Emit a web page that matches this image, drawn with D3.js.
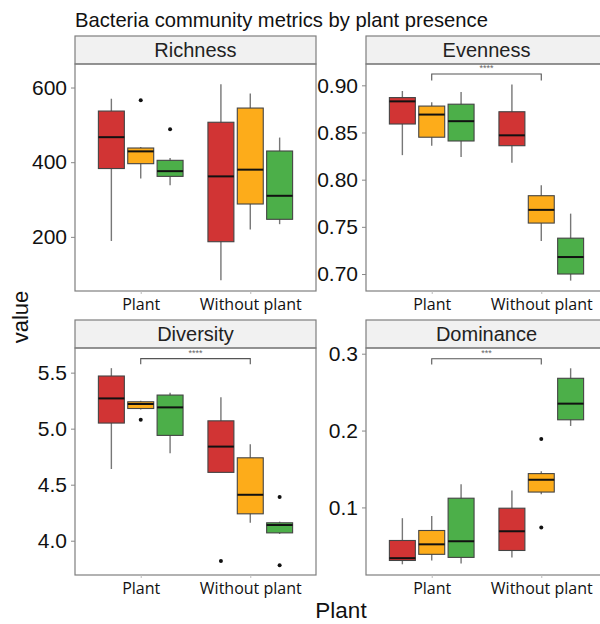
<!DOCTYPE html>
<html>
<head>
<meta charset="utf-8">
<script src="https://cdn.jsdelivr.net/npm/d3@7"></script>
<style>
  body { margin: 0; background: #fff; }
  svg { display: block; }
</style>
</head>
<body>
<div id="chart"></div>
<script>
// categories on the x axis and the three fill groups (left to right in each category)
var groups = ["Plant", "Without plant"];
var fillColors = ["#d13434", "#fdac1a", "#4caf49"];

// box stats per group: [lower whisker, q1, median, q3, upper whisker]
// order: Plant (red, orange, green), Without plant (red, orange, green)
var richness = [
  [189, 383, 467, 537, 570], [356, 396, 429, 438, 441], [338, 362, 376, 405, 411],
  [84, 187, 362, 507, 609], [220, 288, 380, 545, 584], [234, 247, 310, 430, 466]
];
var richnessOut = [[], [566], [488], [], [], []];

var evenness = [
  [0.826, 0.859, 0.883, 0.887, 0.894], [0.836, 0.845, 0.869, 0.878, 0.882], [0.824, 0.841, 0.862, 0.880, 0.893],
  [0.818, 0.836, 0.847, 0.872, 0.901], [0.735, 0.754, 0.768, 0.783, 0.794], [0.693, 0.700, 0.718, 0.738, 0.764]
];
var evennessOut = [[], [], [], [], [], []];

var diversity = [
  [4.64, 5.05, 5.27, 5.47, 5.54], [5.17, 5.18, 5.22, 5.24, 5.25], [4.78, 4.94, 5.19, 5.30, 5.32],
  [4.61, 4.61, 4.84, 5.07, 5.28], [4.16, 4.24, 4.41, 4.74, 4.86], [4.06, 4.07, 4.14, 4.16, 4.17]
];
var diversityOut = [[], [5.08], [], [3.82], [], [4.39, 3.78]];

var dominance = [
  [0.026, 0.031, 0.034, 0.057, 0.086], [0.031, 0.039, 0.052, 0.070, 0.089], [0.027, 0.035, 0.056, 0.112, 0.130],
  [0.035, 0.044, 0.069, 0.099, 0.122], [0.117, 0.120, 0.136, 0.144, 0.147], [0.206, 0.214, 0.235, 0.268, 0.281]
];
var dominanceOut = [[], [], [], [], [0.189, 0.074], []];

// tick labels per panel
var richnessTicks = [200, 400, 600];
var evennessTicks = [0.70, 0.75, 0.80, 0.85, 0.90];
var diversityTicks = [4.0, 4.5, 5.0, 5.5];
var dominanceTicks = [0.1, 0.2, 0.3];

// significance brackets: [label, bracket value, tick end value]
var evennessSig = ["****", 0.912, 0.905];
var diversitySig = ["****", 5.625, 5.574];
var dominanceSig = ["***", 0.2935, 0.286];

var panels = [
  { title: "Richness", stats: richness, out: richnessOut, ticks: richnessTicks, fmt: d3.format("d"),
    domain: [55, 663], col: 0, row: 0, sig: null },
  { title: "Evenness", stats: evenness, out: evennessOut, ticks: evennessTicks, fmt: d3.format(".2f"),
    domain: [0.682, 0.9226], col: 1, row: 0, sig: evennessSig },
  { title: "Diversity", stats: diversity, out: diversityOut, ticks: diversityTicks, fmt: d3.format(".1f"),
    domain: [3.694, 5.72], col: 0, row: 1, sig: diversitySig },
  { title: "Dominance", stats: dominance, out: dominanceOut, ticks: dominanceTicks, fmt: d3.format(".1f"),
    domain: [0.0121, 0.3074], col: 1, row: 1, sig: dominanceSig }
];

var W = 600, H = 624;
var colX = [75, 366], panelW = 241;
var rowY = [36, 320], stripH = 28, panelH = 227;

var svg = d3.select("#chart").append("svg")
  .attr("width", W).attr("height", H)
  .style("font-family", "'Liberation Sans', Arial, sans-serif");

svg.append("text")
  .attr("x", 75).attr("y", 27)
  .attr("font-size", 20.2).attr("fill", "#111")
  .text("Bacteria community metrics by plant presence");

panels.forEach(function(p) {
  var x0 = colX[p.col], top = rowY[p.row];
  var y0 = top + stripH, y1 = y0 + panelH;
  var g = svg.append("g");

  var x = d3.scalePoint().domain(groups).range([x0, x0 + panelW]).padding(0.6);
  var step = x.step();
  var y = d3.scaleLinear().domain(p.domain).range([y1, y0]);
  var boxW = 0.237 * step, dodge = 0.268 * step;

  // strip
  g.append("rect").attr("x", x0).attr("y", top).attr("width", panelW).attr("height", stripH)
    .attr("fill", "#f1f1f1").attr("stroke", "#7f7f7f").attr("stroke-width", 1.2);
  g.append("text").attr("x", x0 + panelW / 2).attr("y", top + 21)
    .attr("text-anchor", "middle").attr("font-size", 20).attr("fill", "#222")
    .text(p.title);

  // boxes
  p.stats.forEach(function(s, i) {
    var gi = Math.floor(i / 3), si = i % 3;
    var cx = x(groups[gi]) + (si - 1) * dodge;
    g.append("line").attr("x1", cx).attr("x2", cx).attr("y1", y(s[0])).attr("y2", y(s[4]))
      .attr("stroke", "#777").attr("stroke-width", 1.4);
    g.append("rect").attr("x", cx - boxW / 2).attr("y", y(s[3]))
      .attr("width", boxW).attr("height", Math.max(1, y(s[1]) - y(s[3])))
      .attr("fill", fillColors[si]).attr("stroke", "#444").attr("stroke-width", 1.1);
    g.append("line").attr("x1", cx - boxW / 2).attr("x2", cx + boxW / 2)
      .attr("y1", y(s[2])).attr("y2", y(s[2]))
      .attr("stroke", "#111").attr("stroke-width", 2);
    p.out[i].forEach(function(o) {
      g.append("circle").attr("cx", cx).attr("cy", y(o)).attr("r", 2).attr("fill", "#111");
    });
  });

  // significance bracket
  if (p.sig) {
    var xa = x(groups[0]), xb = x(groups[1]);
    g.append("path")
      .attr("d", "M" + xa + "," + y(p.sig[2]) + "V" + y(p.sig[1]) + "H" + xb + "V" + y(p.sig[2]))
      .attr("fill", "none").attr("stroke", "#555").attr("stroke-width", 1.1);
    g.append("text").attr("x", (xa + xb) / 2).attr("y", y(p.sig[1]) - 3)
      .attr("text-anchor", "middle").attr("font-size", 9).attr("fill", "#666")
      .text(p.sig[0]);
  }

  // panel border
  g.append("rect").attr("x", x0).attr("y", y0).attr("width", panelW).attr("height", panelH)
    .attr("fill", "none").attr("stroke", "#7f7f7f").attr("stroke-width", 1.2);

  // y axis
  var ya = g.append("g").attr("transform", "translate(" + x0 + ",0)")
    .call(d3.axisLeft(y).tickValues(p.ticks).tickFormat(p.fmt).tickSize(4).tickPadding(4));
  ya.select(".domain").remove();
  ya.selectAll(".tick line").attr("stroke", "#888");
  ya.selectAll(".tick text").attr("font-size", 21).attr("fill", "#111")
    .attr("font-family", "'Liberation Sans', Arial, sans-serif");

  // x axis
  var xa2 = g.append("g").attr("transform", "translate(0," + y1 + ")")
    .call(d3.axisBottom(x).tickSize(3).tickPadding(5));
  xa2.select(".domain").remove();
  xa2.selectAll(".tick line").attr("stroke", "#bbb");
  xa2.selectAll(".tick text").attr("font-size", 16).attr("fill", "#111")
    .attr("font-family", "'Open Sans', sans-serif");
});

// axis titles
svg.append("text")
  .attr("transform", "translate(28,317) rotate(-90)")
  .attr("text-anchor", "middle").attr("font-size", 22).attr("fill", "#111")
  .text("value");
svg.append("text")
  .attr("x", 341).attr("y", 618)
  .attr("text-anchor", "middle").attr("font-size", 22.5).attr("fill", "#111")
  .text("Plant");
</script>
</body>
</html>
